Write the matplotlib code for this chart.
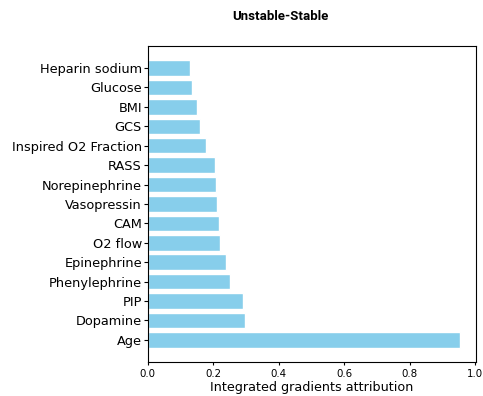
import matplotlib
matplotlib.use("Agg")
import matplotlib.pyplot as plt

features = ["Age", "Dopamine", "PIP", "Phenylephrine", "Epinephrine", "O2 flow",
            "CAM", "Vasopressin", "Norepinephrine", "RASS", "Inspired O2 Fraction",
            "GCS", "BMI", "Glucose", "Heparin sodium"]
attributions = [0.954, 0.296, 0.291, 0.252, 0.239, 0.219,
                0.216, 0.212, 0.209, 0.204, 0.177,
                0.159, 0.149, 0.136, 0.128]

fig = plt.figure(figsize=(4.83, 3.96), dpi=100)
ax = fig.add_axes([0.306, 0.086, 0.6795, 0.798])

ax.barh(features, attributions, color="skyblue", edgecolor="white", linewidth=1)
ax.set_xlabel("Integrated gradients attribution", fontsize=9.2, labelpad=1)
ax.tick_params(axis="y", labelsize=9.3, length=3, pad=1.2)
ax.tick_params(axis="x", labelsize=7.4, length=2.5, pad=2.8)

fig.text(0.58, 0.958, "Unstable-Stable", ha="center", va="center",
         fontsize=9.5, fontweight="bold", family="Roboto")

fig.savefig("out.png", dpi=100)
